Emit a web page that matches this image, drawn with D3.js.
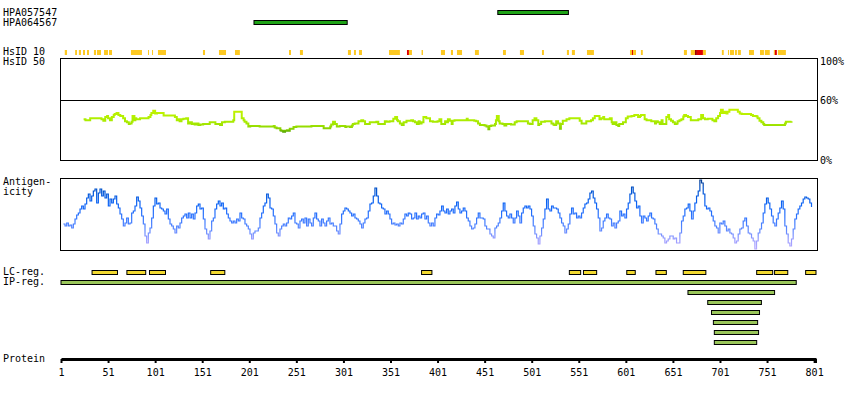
<!DOCTYPE html>
<html><head><meta charset="utf-8">
<script src="https://cdn.jsdelivr.net/npm/d3@7"></script>
<style>
body{margin:0;background:#fff}
svg text{font-family:"DejaVu Sans Mono","Liberation Mono",monospace;font-size:10px;fill:#000}
</style>
</head><body><svg id="c" width="850" height="400"></svg>
<script>
// ---------------- data ----------------
const proteinLength = 803;
const axisTicks = [1,51,101,151,201,251,301,351,401,451,501,551,601,651,701,751,801];

const antibodyNames = ["HPA057547","HPA064567"];
const antibodyStart = [465, 206];
const antibodyEnd   = [540, 305];

// HsID 10 blocks: [start, end, level] level 1 = yellow, 2 = red, 3 = dark red
const hsid10 = [[5,7.4,1],[16,18,1],[20,22.2,1],[24.4,26.5,1],[28.6,30.7,1],[36,38.2,1],[39.2,43.5,1],[46.7,50.9,1],[52,55.2,1],[75.3,87,1],[93.4,94.5,1],[97.7,98.7,1],[104,112.5,1],[151.8,154,1],[168.8,176.3,1],[185.8,191,1],[243.2,245.3,1],[254.8,258,1],[305.8,309,1],[312.2,314.3,1],[317.5,320.7,1],[349.4,361,1],[368.5,370.6,2],[370.6,373.8,1],[384,385.5,1],[404.6,408.9,1],[415.2,417.4,1],[421.6,427,1],[440.7,444.9,1],[470.5,473.6,1],[488.5,492.8,1],[511.9,514,1],[538.4,540.6,1],[543.7,546.9,1],[559.7,567.1,1],[605.4,611.8,1],[607.5,608.6,2],[617,619,1],[662.7,665.9,1],[670,674.4,1],[674.4,676.5,3],[676.5,682.9,2],[682.9,686,1],[703,705,1],[709.5,710.5,1],[711.6,715.9,1],[716.9,719,1],[720,723.2,1],[731.8,737.1,1],[743.5,747.7,1],[748.6,753.9,1],[758.2,759.3,1],[759.3,761.4,2],[762.5,771,1]];
const hsidColors = ["", "#fdc922", "#e00000", "#a00000"];

// HsID 50 similarity: [residue, percent]
const similarity = [[25,42],[27,41],[30,41],[32,43],[39,43],[44,42],[46,40.5],[48,44],[50,45],[51,43],[53,41],[55,44],[57,46],[58,47],[60,48],[62,46],[64,45],[67,43],[69,40],[71,39],[73,37.5],[74,38],[76,39.5],[77,45],[79,41],[80,43],[81,42],[85,43],[92,43],[94,44],[96,46],[97,48],[99,50],[101,47.5],[103,48],[106,48],[110,45.5],[113,45.5],[120,45.5],[122,44],[124,41],[126,42],[127,40],[129,42],[131,42.5],[134,43],[136,38],[138,39],[140,37.5],[142,38],[143,37],[145,38],[147,36.5],[149,37],[152,37.5],[158,37.5],[159,39],[161,39],[165,37.5],[168,37.5],[170,36.5],[172,39],[175,39.5],[182,39.5],[184,41],[185,49],[191,49],[193,43],[195,41],[196,39.5],[198,38],[200,35],[202,35.5],[205,35.5],[212,35],[225,35],[227,35.5],[228,34],[230,33.5],[234,31.5],[235,31],[237,30],[239,31],[241,31.5],[242,31],[244,33],[248,34.5],[251,35],[267,35.5],[276,35.5],[280,33.5],[283,33.5],[287,35],[288,37],[290,39.5],[292,37.5],[294,35],[297,35.5],[301,35.5],[303,34.5],[304,35],[308,34.5],[310,36],[311,37.5],[313,38],[317,40],[320,41],[322,40],[324,37.5],[326,37.5],[329,39],[331,39],[336,39.5],[338,37.5],[343,37.5],[345,40],[347,39.5],[350,40],[354,42.5],[356,44],[358,41],[359,40],[361,38],[363,36.5],[365,39],[368,40.5],[373,41],[375,40],[377,39],[379,37.5],[381,40],[382,38],[384,39],[386,44],[389,43],[393,40],[396,39.5],[401,40],[403,42],[405,37.5],[407,37.5],[409,40],[410,39],[412,42],[414,40.5],[416,37.5],[417,40.5],[419,41],[428,41],[432,42.5],[433,41],[439,41],[440,40.5],[442,40],[444,38],[446,36.5],[451,36],[453,35],[455,32.5],[456,35.5],[458,36],[462,37.5],[463,41],[464,45],[466,40],[467,38],[470,37.5],[472,36],[474,37.5],[479,37],[483,39],[485,40],[495,40],[497,38],[499,37.5],[502,41],[504,43],[506,41],[508,36.5],[509,37.5],[511,39.5],[515,40],[520,40],[522,38],[524,37],[525,36.5],[527,40],[529,38],[531,33],[532,37.5],[534,40.5],[538,42],[541,43],[548,43],[552,40.5],[554,38],[559,40],[564,41],[566,43],[568,45],[571,45],[573,42],[575,43],[577,44],[578,42],[584,43],[586,39],[587,37.5],[589,39],[591,36.5],[593,35.5],[594,37.5],[598,39],[601,43],[603,44.5],[607,45],[610,46],[614,44],[616,45],[617,46],[621,42],[623,41],[628,40],[632,38],[633,40],[635,39],[637,37.5],[639,41],[640,37.5],[644,44],[646,46],[647,42],[649,40.5],[651,39],[653,37.5],[655,38],[656,40],[658,41],[660,42],[662,44.5],[663,46],[665,45],[667,44],[670,41],[678,42],[681,46],[683,43],[685,42],[688,42.5],[693,41],[695,40],[697,43],[699,45],[701,48],[702,51],[704,48],[706,49],[708,47.5],[709,49],[711,51],[716,51],[720,49],[722,47.5],[724,47],[732,47],[734,46],[736,45],[740,44.5],[741,43],[743,40.5],[745,39],[747,37.5],[748,36.5],[768,36.5],[770,38],[771,39.5],[777,40]];
const similarityTicks = ["100%","60%","0%"];

// Antigenicity: scores read every 1.77 residues starting at residue 3.5
const antigenStart = 3.5;
const antigenStep = 1.77;
const antigenicity = [
26,24,27,24,25,22,26,31,35,37,41,44,41,46,52,56,49,54,59,61,
47,57,61,54,59,52,56,44,51,47,51,54,46,42,36,31,24,27,32,26,
27,37,39,44,53,49,42,34,26,14,7,17,22,32,44,52,46,47,42,41,
39,36,41,31,26,24,21,17,24,22,27,32,34,36,32,37,32,36,31,37,
44,46,41,42,31,21,16,11,19,29,32,41,46,49,44,47,41,42,36,32,
29,27,29,27,31,29,37,32,31,26,24,21,16,11,17,19,19,22,32,37,
44,47,56,52,42,41,34,26,17,14,21,24,26,24,27,32,31,34,37,27,
26,22,29,31,27,32,24,31,27,24,32,37,31,29,24,31,27,24,29,32,
26,27,24,24,19,16,26,36,39,42,41,39,37,34,36,32,31,29,26,22,
27,31,32,39,46,47,54,62,54,47,46,42,41,36,39,36,31,26,27,25,
26,24,27,26,31,36,34,37,36,31,32,37,31,34,32,36,37,31,34,27,
24,27,24,32,36,35,
39,44,39,37,41,36,39,41,37,44,48,41,37,39,42,39,32,29,24,21,
22,26,32,37,32,32,31,24,21,21,16,14,12,22,24,27,32,39,47,39,
34,32,36,32,27,32,39,34,27,37,42,44,42,44,41,34,24,16,12,6,
14,22,31,41,51,41,39,44,42,42,41,37,32,27,24,17,21,26,36,42,
36,37,32,34,32,37,42,46,47,51,57,59,52,47,41,32,19,22,29,32,
36,32,31,24,27,22,27,29,39,34,36,32,41,47,56,63,57,49,42,44,
34,27,34,32,29,34,37,32,31,26,21,16,16,14,12,7,9,11,14,14,
11,12,7,7,17,29,34,41,42,46,39,31,39,47,54,59,70,67,56,44,
41,42,39,34,29,24,22,17,27,26,29,24,19,21,17,16,12,7,9,16,
21,22,29,32,24,17,16,12,9,1,9,17,21,27,37,46,52,47,41,34,
27,24,31,37,42,49,41,24,16,7,4,11,21,31,36,41,44,47,51,53,
52,51,47,43];
const antigenMax = 72;

// Low complexity regions and IP regions: start / end residues
const lcStart = [34,71,95,160,384,541,556,602,633,662,740,759,792];
const lcEnd   = [61,91,112,175,395,553,570,611,644,686,757,773,803];
const ipStart = [1,667,688,692,694,695,695];
const ipEnd   = [782,759,745,743,741,742,740];

// ---------------- drawing ----------------
const svg = d3.select("#c");
const x = d3.scaleLinear().domain([1, proteinLength]).range([61, 816]);
const left = 60.5, right = 817.5;

const label = (t, lx, ly, anchor) => svg.append("text").attr("x", lx).attr("y", ly)
  .attr("text-anchor", anchor || "start").text(t);

// antibody bars
antibodyNames.forEach((n, i) => {
  label(n, 3, 16 + i * 10);
  svg.append("rect").attr("x", x(antibodyStart[i])).attr("y", 10.5 + i * 10)
    .attr("width", x(antibodyEnd[i]) - x(antibodyStart[i])).attr("height", 4)
    .attr("fill", "#1fa317").attr("stroke", "#000").attr("stroke-width", 1);
});

// HsID 10
label("HsID 10", 3, 55);
label("HsID 50", 3, 65);
svg.append("g").selectAll("rect").data(hsid10).join("rect")
  .attr("x", d => x(d[0])).attr("y", 50)
  .attr("width", d => Math.max(1, x(d[1]) - x(d[0]))).attr("height", 5)
  .attr("fill", d => hsidColors[d[2]]);

// similarity panel
const yS = d3.scaleLinear().domain([0, 100]).range([163.3, 58.3]);
svg.append("rect").attr("x", left).attr("y", 58.5).attr("width", right - left).attr("height", 102)
  .attr("fill", "none").attr("stroke", "#000").attr("stroke-width", 1);
svg.append("line").attr("x1", left).attr("x2", right).attr("y1", Math.round(yS(60)) + 0.5).attr("y2", Math.round(yS(60)) + 0.5)
  .attr("stroke", "#000").attr("stroke-width", 1);
label(similarityTicks[0], 820, 65);
label(similarityTicks[1], 820, 104);
label(similarityTicks[2], 820, 164);

const defs = svg.append("defs");
const gS = defs.append("linearGradient").attr("id", "gs").attr("gradientUnits", "userSpaceOnUse")
  .attr("x1", 0).attr("x2", 0).attr("y1", yS(52)).attr("y2", yS(29));
[[0, "#c6f200"], [0.4, "#b0f000"], [0.65, "#a2e600"], [0.85, "#86d000"], [1, "#4fa000"]]
  .forEach(s => gS.append("stop").attr("offset", s[0]).attr("stop-color", s[1]));
svg.append("path").datum(similarity)
  .attr("d", d3.line().x(d => x(d[0])).y(d => yS(d[1])).curve(d3.curveStepAfter))
  .attr("fill", "none").attr("stroke", "url(#gs)").attr("stroke-width", 2);

// antigenicity panel
label("Antigen-", 3, 185);
label("icity", 3, 195);
const yA = d3.scaleLinear().domain([0, antigenMax]).range([250, 178]);
svg.append("rect").attr("x", left).attr("y", 178.5).attr("width", right - left).attr("height", 72)
  .attr("fill", "none").attr("stroke", "#000").attr("stroke-width", 1);
const gA = defs.append("linearGradient").attr("id", "ga").attr("gradientUnits", "userSpaceOnUse")
  .attr("x1", 0).attr("x2", 0).attr("y1", yA(antigenMax)).attr("y2", yA(0));
[[0, "#083a84"], [0.15, "#0052cc"], [0.35, "#0a62f4"], [0.55, "#2f74ff"], [0.72, "#5c88ff"], [0.86, "#9a9cff"], [1, "#b8aaff"]]
  .forEach(s => gA.append("stop").attr("offset", s[0]).attr("stop-color", s[1]));
svg.append("path").datum(antigenicity)
  .attr("d", d3.line().x((d, i) => x(antigenStart + i * antigenStep)).y(d => yA(d)).curve(d3.curveStepAfter))
  .attr("fill", "none").attr("stroke", "url(#ga)").attr("stroke-width", 1.2);

// LC / IP regions
label("LC-reg.", 3, 275);
label("IP-reg.", 3, 285);
svg.append("g").selectAll("rect").data(lcStart).join("rect")
  .attr("x", (d, i) => x(d)).attr("y", 270.5)
  .attr("width", (d, i) => x(lcEnd[i]) - x(d)).attr("height", 4)
  .attr("fill", "#f2d930").attr("stroke", "#000").attr("stroke-width", 1);
svg.append("g").selectAll("rect").data(ipStart).join("rect")
  .attr("x", (d, i) => x(d)).attr("y", (d, i) => 280.5 + i * 10)
  .attr("width", (d, i) => x(ipEnd[i]) - x(d)).attr("height", 4)
  .attr("fill", "#9ac65a").attr("stroke", "#000").attr("stroke-width", 1);

// protein axis
label("Protein", 3, 362);
const axis = d3.axisBottom(x).tickValues(axisTicks).tickSize(4).tickPadding(6).tickSizeOuter(0).tickFormat(d3.format("d"));
const ga = svg.append("g").attr("transform", "translate(0,359)").call(axis)
  .attr("font-family", "'DejaVu Sans Mono', monospace").attr("font-size", 10);
ga.select(".domain").attr("stroke", "#000").attr("stroke-width", 3);
ga.selectAll(".tick line").attr("stroke", "#000").attr("stroke-width", 2);
ga.selectAll(".tick text").attr("fill", "#000");
ga.append("line").attr("x1", x(proteinLength)).attr("x2", x(proteinLength)).attr("y1", 0).attr("y2", 4)
  .attr("stroke", "#000").attr("stroke-width", 2);
</script></body></html>
